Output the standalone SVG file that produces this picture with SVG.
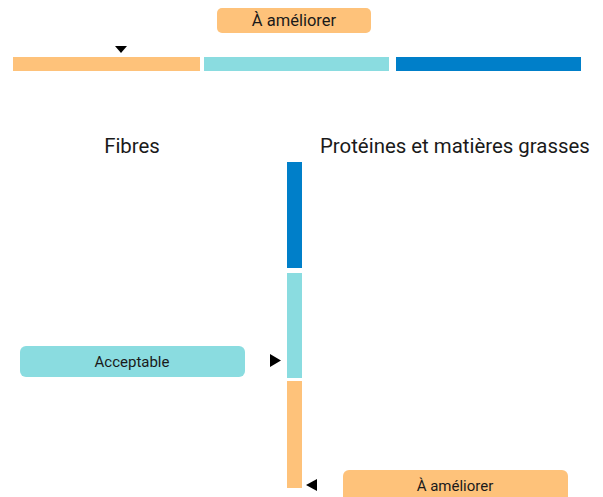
<svg xmlns="http://www.w3.org/2000/svg" width="603" height="497" viewBox="0 0 603 497">
<style>
.t{font-family:Roboto,"Liberation Sans",sans-serif;fill:#1a1a1a}
.pt{font-size:15px;text-anchor:middle}
.ht{font-size:20.4px}
.o{fill:#FEC27A}.c{fill:#8ADCE0}.b{fill:#007FC9}
.m{fill:#000}
</style>
<rect width="603" height="497" fill="#fff"/>
<g id="top-bar">
<rect class="o" x="13" y="57" width="187" height="14"/>
<rect class="c" x="204" y="57" width="185" height="14"/>
<rect class="b" x="396" y="57" width="185" height="14"/>
</g>
<g id="top-label">
<rect class="o" x="217" y="8" width="154" height="25" rx="5"/>
<text class="t pt" x="294" y="26" style="font-size:16.5px">À améliorer</text>
</g>
<g id="fibres"><text class="t ht" x="132" y="153" text-anchor="middle">Fibres</text></g>
<g id="proteines"><text class="t ht" x="320" y="153">Protéines et matières grasses</text></g>
<g id="side-bar">
<rect class="b" x="287" y="162" width="15" height="106"/>
<rect class="c" x="287" y="273" width="15" height="105"/>
<rect class="o" x="287" y="381" width="15" height="107"/>
</g>
<g id="acceptable">
<rect class="c" x="20" y="346" width="225" height="31" rx="6"/>
<text class="t pt" x="132" y="367">Acceptable</text>
</g>
<g id="bottom-label">
<rect class="o" x="343" y="470" width="225" height="34" rx="6"/>
<text class="t pt" x="455" y="491">À améliorer</text>
</g>
<g id="connectors">
<polygon class="m" points="115,46 127,46 121,53"/>
<polygon class="m" points="270,354 281,360.5 270,367"/>
<polygon class="m" points="317,479 306,485 317,491"/>
</g>
</svg>
